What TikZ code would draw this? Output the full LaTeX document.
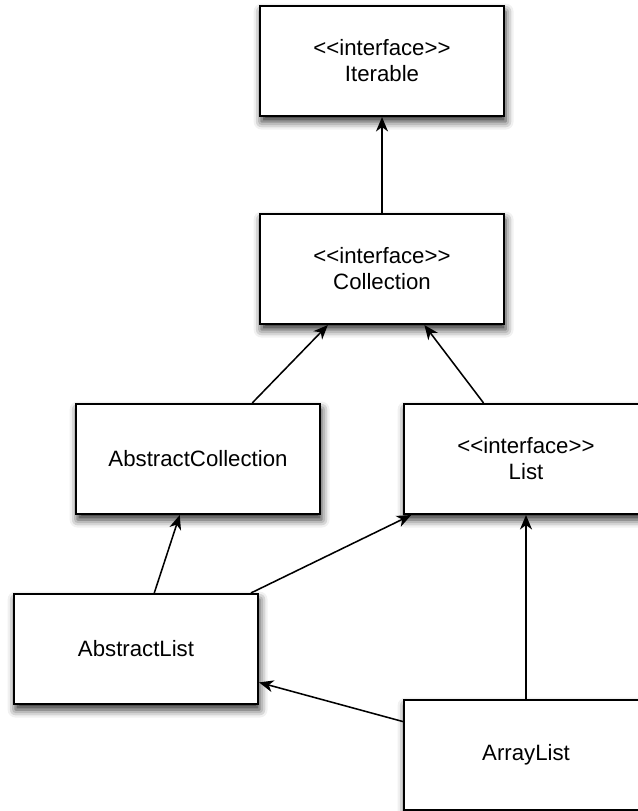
\documentclass[tikz,border=0pt]{standalone}
\usepackage{fontspec}
\usepackage{tikz}
\usetikzlibrary{arrows.meta,shadows.blur}
\newfontfamily\umlfont{Liberation Sans}

\begin{document}
\begin{tikzpicture}[node distance=4.75cm, >={Stealth[length=0.36cm,width=0.3cm,inset=0.11cm]}, every node/.style={draw,line width=1.5pt,fill=white,minimum width=6.1cm,minimum height=2.75cm,align=center,font=\umlfont\fontsize{15.8}{18.5}\selectfont,blur shadow={shadow xshift=0.04cm,shadow yshift=-0.14cm,shadow blur radius=0.2cm,shadow opacity=85}}]
  \useasboundingbox (0,0) rectangle (15.925,-20.275);
  \node (iterable) at (9.55,-1.525) {<{}<interface>{}>\\Iterable};
  \node (collection) [below of=iterable, yshift=-0.45cm] {<{}<interface>{}>\\Collection};
  \node (abstractcollection) [below of=collection, xshift=-4.6cm] {AbstractCollection};
  \node (list) [below of=collection, xshift=3.6cm] {<{}<interface>{}>\\List};
  \node (abstractlist) [below of=abstractcollection, xshift=-1.55cm] {AbstractList};
  \node (arraylist) [below of=list, yshift=-2.65cm] {ArrayList};
  \draw[->,line width=1.1pt] (collection) -- (iterable);
  \draw[->,line width=1.1pt] (abstractcollection) -- (collection);
  \draw[->,line width=1.1pt] (list) -- (collection);
  \draw[->,line width=1.1pt] (abstractlist) -- (abstractcollection);
  \draw[->,line width=1.1pt] (abstractlist) -- (list);
  \draw[->,line width=1.1pt] (arraylist) -- (list);
  \draw[->,line width=1.1pt] (arraylist) -- (abstractlist);
\end{tikzpicture}
\end{document}
